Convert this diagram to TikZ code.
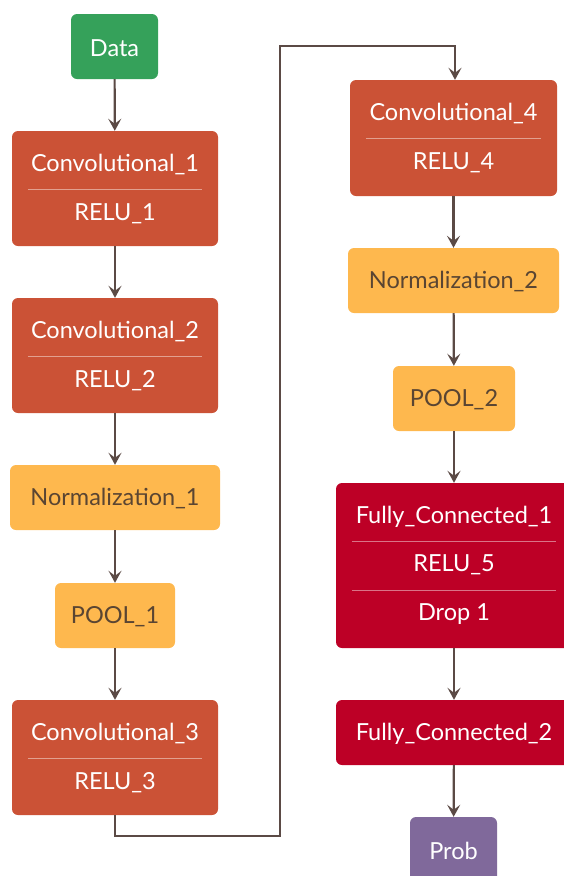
\documentclass[tikz,border=0pt]{standalone}
\usepackage{fontspec}
\setmainfont{Lato}
\usetikzlibrary{arrows.meta}
\definecolor{cgreen}{HTML}{35A15A}
\definecolor{corange}{HTML}{CB5236}
\definecolor{cyellow}{HTML}{FEB84E}
\definecolor{ccrimson}{HTML}{BD0026}
\definecolor{cpurple}{HTML}{80699B}
\definecolor{carrow}{HTML}{5B4A45}
\definecolor{cdark}{HTML}{5A4532}
\begin{document}
\begin{tikzpicture}[x=1pt,y=-1pt,
  box/.style={rectangle,rounded corners=6pt,draw=none,inner sep=0pt},
  lbl/.style={font=\fontsize{23.5}{28}\selectfont,text=white,inner sep=0pt},
  dlbl/.style={font=\fontsize{23.5}{28}\selectfont,text=cdark,inner sep=0pt},
  divider/.style={draw=white,opacity=0.45,line width=1pt},
  arr/.style={draw=carrow,line width=2.2pt,-{Stealth[length=12pt,width=13pt,inset=5pt]}},
  conn/.style={draw=carrow,line width=2pt}]
\useasboundingbox (0,0) rectangle (563,876);
% left column
\node[box,fill=cgreen,minimum width=87pt,minimum height=65pt] (data) at (114.5,46.5) {};
\node[lbl] (tdata) at (114.5,48) {Data};
\node[box,fill=corange,minimum width=206pt,minimum height=115pt] (conv1) at (115,188.5) {};
\node[lbl] (tconv1) at (115,165) {Convolutional\_1};
\node[lbl] (trelu1) at (115,214) {RELU\_1};
\draw[divider] ([xshift=16pt]conv1.west |- 0,189) coordinate (d1a) -- ([xshift=-16pt]conv1.east |- 0,189) coordinate (d1b);
\node[box,fill=corange,minimum width=206pt,minimum height=115pt] (conv2) at (115,355.5) {};
\node[lbl] (tconv2) at (115,332) {Convolutional\_2};
\node[lbl] (trelu2) at (115,381) {RELU\_2};
\draw[divider] ([xshift=16pt]conv2.west |- 0,356) coordinate (d2a) -- ([xshift=-16pt]conv2.east |- 0,356) coordinate (d2b);
\node[box,fill=cyellow,minimum width=210pt,minimum height=65pt] (norm1) at (115,497.5) {};
\node[dlbl] (tnorm1) at (115,499) {Normalization\_1};
\node[box,fill=cyellow,minimum width=120pt,minimum height=65pt] (pool1) at (115,615.5) {};
\node[dlbl] (tpool1) at (115,617) {POOL\_1};
\node[box,fill=corange,minimum width=206pt,minimum height=115pt] (conv3) at (115,757.5) {};
\node[lbl] (tconv3) at (115,734) {Convolutional\_3};
\node[lbl] (trelu3) at (115,783) {RELU\_3};
\draw[divider] ([xshift=16pt]conv3.west |- 0,758) coordinate (d3a) -- ([xshift=-16pt]conv3.east |- 0,758) coordinate (d3b);
% right column
\node[box,fill=corange,minimum width=207pt,minimum height=116pt] (conv4) at (453.5,138) {};
\node[lbl] (tconv4) at (453.5,114) {Convolutional\_4};
\node[lbl] (trelu4) at (453.5,163) {RELU\_4};
\draw[divider] ([xshift=16pt]conv4.west |- 0,138) coordinate (d4a) -- ([xshift=-16pt]conv4.east |- 0,138) coordinate (d4b);
\node[box,fill=cyellow,minimum width=211pt,minimum height=65pt] (norm2) at (453.5,280.5) {};
\node[dlbl] (tnorm2) at (453.5,282) {Normalization\_2};
\node[box,fill=cyellow,minimum width=122pt,minimum height=65pt] (pool2) at (454,398.5) {};
\node[dlbl] (tpool2) at (454,400) {POOL\_2};
\node[box,fill=ccrimson,minimum width=236pt,minimum height=165pt] (fc1) at (454,565.5) {};
\node[lbl] (tfc1) at (454,517) {Fully\_Connected\_1};
\node[lbl] (trelu5) at (454,565) {RELU\_5};
\node[lbl] (tdrop) at (454,614) {Drop 1};
\draw[divider] ([xshift=16pt]fc1.west |- 0,541) coordinate (d5a) -- ([xshift=-16pt]fc1.east |- 0,541) coordinate (d5b);
\draw[divider] ([xshift=16pt]fc1.west |- 0,590) coordinate (d6a) -- ([xshift=-16pt]fc1.east |- 0,590) coordinate (d6b);
\node[box,fill=ccrimson,minimum width=236pt,minimum height=65pt] (fc2) at (454,732.5) {};
\node[lbl] (tfc2) at (454,734) {Fully\_Connected\_2};
\node[box,fill=cpurple,minimum width=87pt,minimum height=65pt] (prob) at (453.5,849.5) {};
\node[lbl] (tprob) at (453.5,851) {Prob};
% connectors
\draw[arr] (data) -- (conv1);
\draw[arr] (conv1) -- (conv2);
\draw[arr] (conv2) -- (norm1);
\draw[arr] (norm1) -- (pool1);
\draw[arr] (pool1) -- (conv3);
\coordinate (c1) at (280,836);
\coordinate (c2) at (280,46);
\coordinate (c3) at (455,46);
\draw[arr] (conv3.south) |- (c1) -- (c2) -- (c3) -- (conv4.north -| c3);
\draw[arr] (conv4) -- (norm2);
\draw[arr] (norm2) -- (pool2);
\draw[arr] (pool2) -- (fc1);
\draw[arr] (fc1) -- (fc2);
\draw[arr] (fc2) -- (prob);
\end{tikzpicture}
\end{document}
